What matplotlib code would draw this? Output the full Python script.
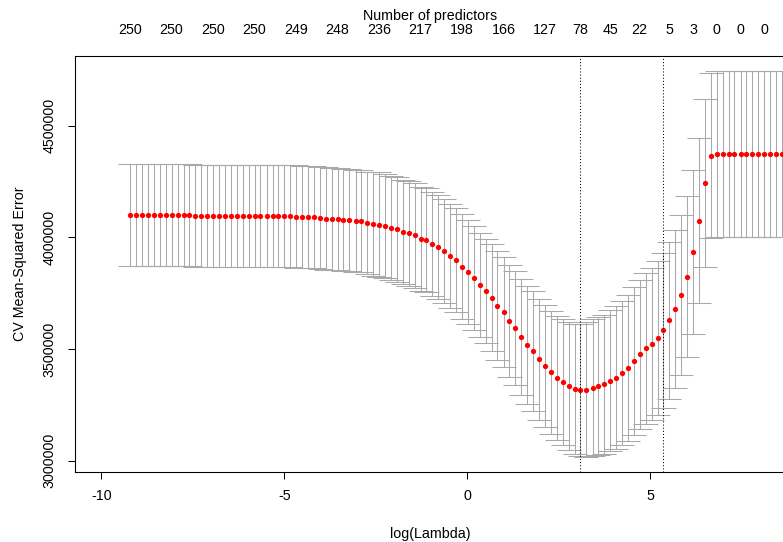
import matplotlib.pyplot as plt
import numpy as np

plt.rcParams['font.family'] = ['Liberation Sans', 'DejaVu Sans']

# log(lambda) of every fitted lambda
log_lambda = [
    -9.21, -9.05, -8.89, -8.72, -8.56, -8.40, -8.24, -8.08, -7.91, -7.75,
    -7.59, -7.43, -7.27, -7.10, -6.94, -6.78, -6.62, -6.46, -6.29, -6.13,
    -5.97, -5.81, -5.65, -5.48, -5.32, -5.16, -5.00, -4.84, -4.67, -4.51,
    -4.35, -4.19, -4.03, -3.86, -3.70, -3.54, -3.38, -3.22, -3.05, -2.89,
    -2.73, -2.57, -2.41, -2.24, -2.08, -1.92, -1.76, -1.60, -1.43, -1.27,
    -1.11, -0.95, -0.79, -0.62, -0.46, -0.30, -0.14, 0.02, 0.19, 0.35,
    0.51, 0.67, 0.83, 1.00, 1.16, 1.32, 1.48, 1.64, 1.81, 1.97,
    2.13, 2.29, 2.45, 2.62, 2.78, 2.94, 3.10, 3.26, 3.43, 3.59,
    3.75, 3.91, 4.07, 4.24, 4.40, 4.56, 4.72, 4.88, 5.05, 5.21,
    5.37, 5.53, 5.69, 5.86, 6.02, 6.18, 6.34, 6.50, 6.67, 6.83,
    6.99, 7.15, 7.31, 7.48, 7.64, 7.80, 7.96, 8.12, 8.29, 8.45,
    8.61,
]

# mean CV error
cv_mean = [
    4100000, 4100000, 4100000, 4099000, 4099000, 4099000, 4099000, 4098000, 4098000, 4098000,
    4098000, 4097000, 4097000, 4097000, 4096000, 4096000, 4096000, 4096000, 4096000, 4096000,
    4096000, 4096000, 4096000, 4096000, 4096000, 4096000, 4096000, 4095000, 4093000, 4092000,
    4092000, 4091000, 4088000, 4084000, 4083000, 4081000, 4079000, 4076000, 4072000, 4071000,
    4064000, 4061000, 4057000, 4051000, 4040000, 4035000, 4024000, 4017000, 4008000, 3994000,
    3987000, 3970000, 3955000, 3940000, 3918000, 3898000, 3869000, 3844000, 3816000, 3786000,
    3759000, 3730000, 3694000, 3665000, 3625000, 3592000, 3555000, 3519000, 3489000, 3453000,
    3422000, 3396000, 3371000, 3351000, 3335000, 3322000, 3317000, 3318000, 3327000, 3335000,
    3341000, 3357000, 3371000, 3392000, 3416000, 3445000, 3477000, 3502000, 3522000, 3550000,
    3583000, 3628000, 3680000, 3743000, 3824000, 3933000, 4075000, 4242000, 4366000, 4372000,
    4372000, 4372000, 4372000, 4372000, 4372000, 4372000, 4372000, 4372000, 4372000, 4372000,
    4372000,
]

# standard error of the CV error
cv_sd = [
    228700, 228700, 228700, 228700, 228700, 228700, 228700, 228700, 228700, 228700,
    228700, 228700, 228700, 228700, 228700, 228700, 228700, 228700, 228700, 228700,
    228700, 228700, 228700, 228700, 228700, 228700, 228700, 228700, 228700, 228700,
    228700, 228700, 228700, 228700, 228700, 228700, 228700, 228700, 228700, 228700,
    228700, 233200, 233200, 233200, 233200, 233200, 233200, 233200, 233200, 233200,
    233200, 233200, 233200, 233200, 233200, 233200, 233200, 233200, 233200, 233200,
    234500, 238600, 242600, 246600, 251100, 255600, 260100, 264600, 269100, 271300,
    273500, 275800, 278000, 282500, 287000, 291500, 296000, 300400, 304900, 308500,
    312100, 315700, 319300, 322900, 326500, 330000, 333600, 337200, 340800, 343900,
    346600, 351100, 354300, 358700, 361400, 367700, 370400, 376700, 370900, 370900,
    370900, 370900, 370900, 370900, 370900, 370900, 370900, 370900, 370900, 370900,
    370900,
]

# number of nonzero coefficients shown on the top axis
nz_at = [0, 7, 14, 21, 28, 35, 42, 49, 56, 63, 70, 76, 81, 86, 91, 95, 99, 103, 107]
nz_shown = [250, 250, 250, 250, 249, 248, 236, 217, 198, 166, 127, 78, 45, 22, 5, 3, 0, 0, 0]

idx_min = 76
idx_1se = 90

x = np.array(log_lambda)
m = np.array(cv_mean)
s = np.array(cv_sd)
up = m + s
lo = m - s

fs = 10.3

fig = plt.figure(figsize=(7.83, 5.42), dpi=100)
ax = fig.add_axes([75 / 783, 70 / 542, 711 / 783, 416 / 542])

capw = 0.33
ax.vlines(x, lo, up, color='darkgrey', lw=0.75)
ax.hlines(up, x - capw, x + capw, color='darkgrey', lw=0.75)
ax.hlines(lo, x - capw, x + capw, color='darkgrey', lw=0.75)
ax.plot(x, m, 'o', color='red', ms=3.8, mec='none')

ax.axvline(x[idx_min], color='black', lw=0.75, ls=(0, (1, 2)))
ax.axvline(x[idx_1se], color='black', lw=0.75, ls=(0, (1, 2)))

ax.set_xlim(-10.72, 8.72)
ax.set_ylim(2948600, 4811900)
ax.set_xticks([-10, -5, 0, 5])
ax.set_xticklabels(['-10', '-5', '0', '5'])
yt = [3000000, 3500000, 4000000, 4500000]
ax.set_yticks(yt)
ax.set_yticklabels([str(v) for v in yt], rotation=90, va='center')
ax.tick_params(axis='x', direction='out', length=5.2, width=0.75, labelsize=fs, pad=7)
ax.tick_params(axis='y', direction='out', length=5.2, width=0.75, labelsize=fs, pad=8)
for sp in ax.spines.values():
    sp.set_linewidth(0.75)

top = ax.twiny()
top.set_xlim(ax.get_xlim())
top.set_xticks(x[nz_at])
top.set_xticklabels([str(n) for n in nz_shown])
top.tick_params(axis='x', length=0, pad=13.5, labelsize=fs)
top.set_xlabel('Number of predictors', fontsize=fs, labelpad=2)
for sp in top.spines.values():
    sp.set_linewidth(0.75)

ax.set_xlabel('log(Lambda)', fontsize=fs, labelpad=17)
ax.set_ylabel('CV Mean-Squared Error', fontsize=fs, labelpad=11)

fig.savefig('out.png')
